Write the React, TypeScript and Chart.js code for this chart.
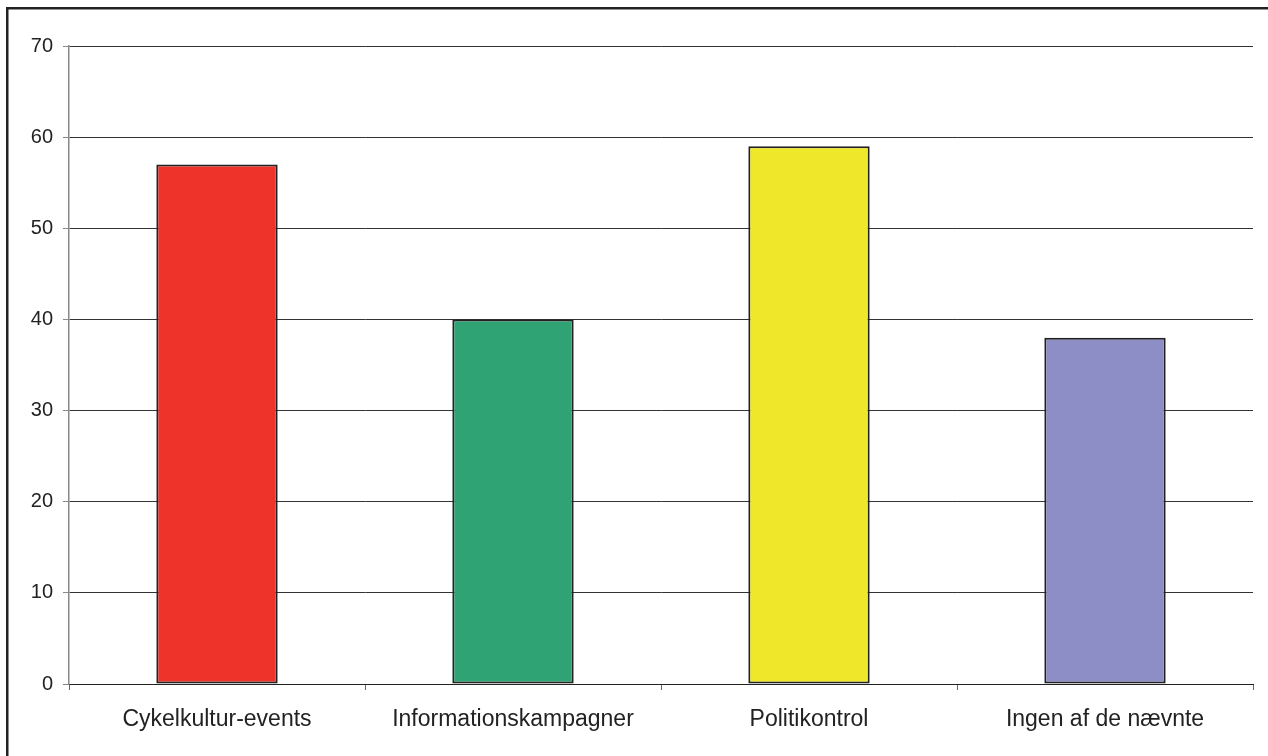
import React, { useEffect, useRef } from "react";
import { Chart, registerables } from "chart.js";

Chart.register(...registerables);

const categories = ["Cykelkultur-events", "Informationskampagner", "Politikontrol", "Ingen af de nævnte"];
const values = [57, 40, 59, 38];
const barColors = ["#EE332B", "#2FA373", "#EFE72A", "#8E8EC6"];
const yTicks = [0, 10, 20, 30, 40, 50, 60, 70];

const framePlugin = {
  id: "frame",
  beforeDraw(chart: any) {
    const ctx = chart.ctx;
    ctx.save();
    ctx.fillStyle = "#ffffff";
    ctx.fillRect(0, 0, chart.width, chart.height);
    ctx.strokeStyle = "#222222";
    ctx.lineWidth = 2.5;
    ctx.strokeRect(7.25, 8.25, chart.width + 20, chart.height + 20);
    ctx.restore();
  },
};

export default function App() {
  const ref = useRef<HTMLCanvasElement>(null);
  useEffect(() => {
    document.body.style.margin = "0";
    const chart = new Chart(ref.current!, {
      type: "bar",
      data: {
        labels: categories,
        datasets: [
          {
            data: values,
            backgroundColor: barColors,
            borderColor: "#222222",
            borderWidth: 2,
            borderSkipped: false,
            categoryPercentage: 1,
            barPercentage: 0.41,
          },
        ],
      },
      options: {
        animation: false,
        responsive: false,
        devicePixelRatio: 1,
        layout: { padding: { left: 0, right: 15, top: 46, bottom: 0 } },
        plugins: {
          legend: { display: false },
          tooltip: { enabled: false },
        },
        scales: {
          x: {
            offset: true,
            grid: {
              offset: true,
              drawOnChartArea: false,
              drawTicks: true,
              tickLength: 6,
              tickColor: "#666666",
            },
            border: { display: true, color: "#222222", width: 1 },
            ticks: {
              color: "#222222",
              font: { family: "'Liberation Sans', Arial, sans-serif", size: 23 },
              padding: 16,
              maxRotation: 0,
            },
            afterFit(scale: any) {
              scale.height = 72;
            },
          },
          y: {
            min: 0,
            max: 70,
            afterBuildTicks(scale: any) {
              scale.ticks = yTicks.map((v) => ({ value: v }));
            },
            grid: {
              color: "#333333",
              lineWidth: 1,
              drawTicks: true,
              tickLength: 6,
              tickColor: "#888888",
            },
            border: { display: true, color: "#888888", width: 1.5 },
            ticks: {
              color: "#222222",
              font: { family: "'Liberation Sans', Arial, sans-serif", size: 20 },
              padding: 10,
            },
            afterFit(scale: any) {
              scale.width = 69;
            },
          },
        },
      },
      plugins: [framePlugin],
    });
    return () => chart.destroy();
  }, []);
  return (
    <div style={{ width: 1268, height: 756 }}>
      <canvas ref={ref} width={1268} height={756} style={{ display: "block" }} />
    </div>
  );
}
